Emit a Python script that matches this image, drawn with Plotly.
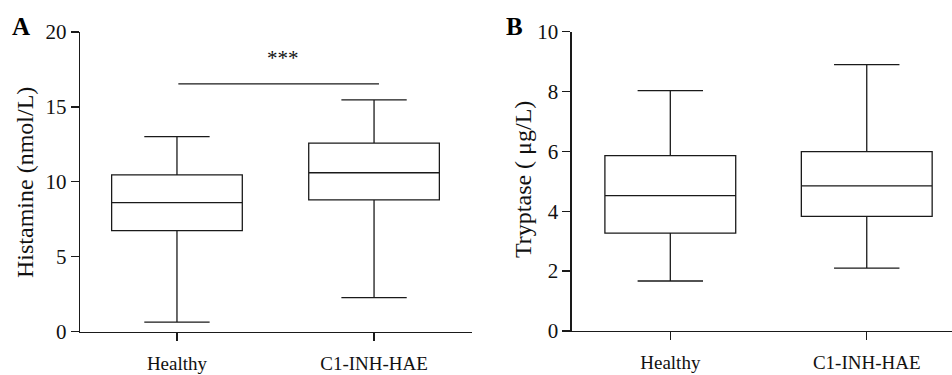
import plotly.graph_objects as go

categories = ["Healthy", "C1-INH-HAE"]

# Panel A: Histamine (nmol/L)
hist_min = [0.63, 2.26]
hist_q1 = [6.74, 8.79]
hist_median = [8.61, 10.6]
hist_q3 = [10.46, 12.58]
hist_max = [13.02, 15.47]

# Panel B: Tryptase (ug/L)
tryp_min = [1.67, 2.10]
tryp_q1 = [3.27, 3.83]
tryp_median = [4.52, 4.85]
tryp_q3 = [5.86, 5.99]
tryp_max = [8.03, 8.90]

hist_ticks = [0, 5, 10, 15, 20]
tryp_ticks = [0, 2, 4, 6, 8, 10]

sig_bracket_x = [0.007, 1.025]
sig_bracket_y = 16.54
sig_label = "***"

FONT = "Liberation Serif, Times New Roman, serif"
LINE = "#1a1a1a"

fig = go.Figure()

fig.add_trace(go.Box(
    x=categories, q1=hist_q1, median=hist_median, q3=hist_q3,
    lowerfence=hist_min, upperfence=hist_max,
    xaxis="x", yaxis="y", width=0.663, whiskerwidth=0.5,
    fillcolor="white", line=dict(color=LINE, width=1.3),
    boxpoints=False, showlegend=False, hoverinfo="skip",
))
fig.add_trace(go.Box(
    x=categories, q1=tryp_q1, median=tryp_median, q3=tryp_q3,
    lowerfence=tryp_min, upperfence=tryp_max,
    xaxis="x2", yaxis="y2", width=0.666, whiskerwidth=0.5,
    fillcolor="white", line=dict(color=LINE, width=1.3),
    boxpoints=False, showlegend=False, hoverinfo="skip",
))

axis_common = dict(
    showline=True, linecolor=LINE, linewidth=1.3,
    ticks="outside", ticklen=8, tickwidth=1.3, tickcolor=LINE,
    showgrid=False, zeroline=False, automargin=False,
)

fig.update_layout(
    template="none",
    width=952, height=375,
    margin=dict(l=0, r=0, t=0, b=0, pad=0),
    paper_bgcolor="white", plot_bgcolor="white",
    font=dict(family=FONT, color="#111"),
    xaxis=dict(domain=[80/952, 472/952], range=[-0.492, 1.497],
               type="category", anchor="y", ticklabelstandoff=6,
               tickfont=dict(size=19, family=FONT), **axis_common),
    yaxis=dict(domain=[(375-331.5)/375, (375-32)/375], range=[0, 20],
               tickvals=hist_ticks, anchor="x",
               tickfont=dict(size=21, family=FONT), **axis_common),
    xaxis2=dict(domain=[571.7/952, 1.0], range=[-0.502, 1.434],
                type="category", anchor="y2", ticklabelstandoff=6,
                tickfont=dict(size=19, family=FONT), **axis_common),
    yaxis2=dict(domain=[(375-331)/375, (375-31.7)/375], range=[0, 10],
                tickvals=tryp_ticks, anchor="x2",
                tickfont=dict(size=21, family=FONT), **axis_common),
)

fig.add_shape(type="line", xref="x", yref="y",
              x0=sig_bracket_x[0], x1=sig_bracket_x[1],
              y0=sig_bracket_y, y1=sig_bracket_y,
              line=dict(color=LINE, width=1.3))
fig.add_annotation(x=0.538, y=18.26, xref="x", yref="y", text=sig_label,
                   showarrow=False, font=dict(size=21, family=FONT),
                   xanchor="center", yanchor="middle")

# y-axis titles
fig.add_annotation(x=25/952, y=1-183/375, xref="paper", yref="paper",
                   text="Histamine (nmol/L)", textangle=-90, showarrow=False,
                   xanchor="center", yanchor="middle",
                   font=dict(size=24, family=FONT))
fig.add_annotation(x=523/952, y=1-180/375, xref="paper", yref="paper",
                   text="Tryptase ( μg/L)", textangle=-90, showarrow=False,
                   xanchor="center", yanchor="middle",
                   font=dict(size=24, family=FONT))

# panel labels
fig.add_annotation(x=10/952, y=1-26/375, xref="paper", yref="paper",
                   text="<b>A</b>", showarrow=False, xanchor="left",
                   yanchor="middle",
                   font=dict(size=25, family=FONT, color="#000"))
fig.add_annotation(x=504/952, y=1-26/375, xref="paper", yref="paper",
                   text="<b>B</b>", showarrow=False, xanchor="left",
                   yanchor="middle",
                   font=dict(size=25, family=FONT, color="#000"))

fig.write_html("out.html",
               config={"displayModeBar": False, "staticPlot": True},
               post_script="document.body.style.margin='0';"
                           "document.body.style.overflow='hidden';")
